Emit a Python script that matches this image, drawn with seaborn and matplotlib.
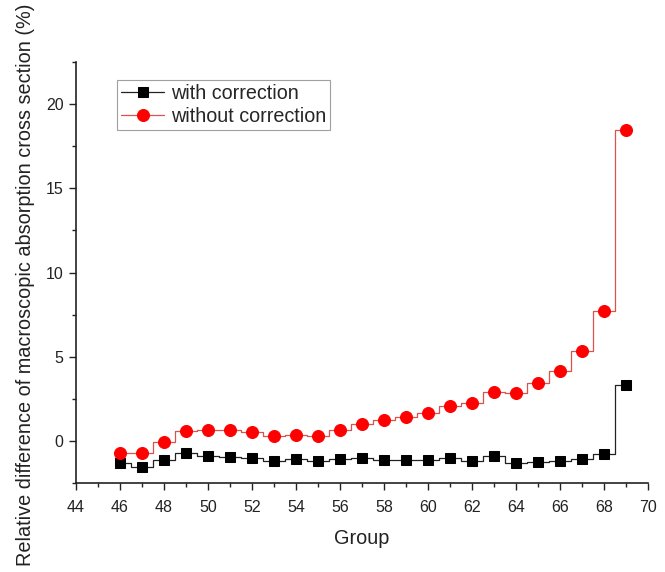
import matplotlib
matplotlib.use("Agg")
import matplotlib.pyplot as plt
from matplotlib.ticker import MultipleLocator
import seaborn as sns
import pandas as pd

# Energy groups
groups = list(range(46, 70))

# Relative difference (%) with the correction applied
with_correction = [-1.32, -1.56, -1.13, -0.73, -0.89, -0.93, -1.03, -1.17,
                   -1.09, -1.17, -1.09, -1.03, -1.13, -1.13, -1.13, -1.03,
                   -1.21, -0.89, -1.32, -1.25, -1.17, -1.09, -0.79, 3.32]

# Relative difference (%) without the correction
without_correction = [-0.69, -0.69, -0.06, 0.61, 0.63, 0.65, 0.53, 0.30,
                      0.36, 0.32, 0.65, 1.03, 1.25, 1.44, 1.68, 2.08,
                      2.24, 2.89, 2.83, 3.42, 4.15, 5.36, 7.70, 18.46]

x_ticks = list(range(44, 71, 2))
y_ticks = [0, 5, 10, 15, 20]

df = pd.DataFrame({"Group": groups,
                   "with": with_correction,
                   "without": without_correction})

sns.set_style("ticks")
plt.rcParams["font.family"] = ["Liberation Sans", "DejaVu Sans"]

fig = plt.figure(figsize=(6.65, 5.72), dpi=100)
ax = fig.add_axes([0.1143, 0.1556, 0.8601, 0.736])

sns.lineplot(data=df, x="Group", y="with", ax=ax, drawstyle="steps-mid",
             color="#222222", linewidth=0.9, marker="s", markersize=7.2,
             markerfacecolor="black", markeredgecolor="black",
             label="with correction")
sns.lineplot(data=df, x="Group", y="without", ax=ax, drawstyle="steps-mid",
             color="#d9534f", linewidth=0.9, marker="o", markersize=8.6,
             markerfacecolor="#ff0000", markeredgecolor="#ff0000",
             label="without correction")

ax.set_xlim(44, 70)
ax.set_ylim(-2.5, 22.5)
ax.set_xticks(x_ticks)
ax.set_yticks(y_ticks)
ax.xaxis.set_minor_locator(MultipleLocator(1))
ax.yaxis.set_minor_locator(MultipleLocator(2.5))
ax.tick_params(which="major", direction="out", length=5, width=1.0,
               labelsize=11.5, colors="#222222")
ax.tick_params(axis="x", which="major", pad=7)
ax.tick_params(axis="y", which="major", pad=4)
ax.tick_params(which="minor", direction="out", length=3, width=1.0,
               colors="#222222")

for side in ("top", "right"):
    ax.spines[side].set_visible(False)
for side in ("left", "bottom"):
    ax.spines[side].set_linewidth(1.2)
    ax.spines[side].set_color("#222222")

ax.set_xlabel("Group", fontsize=14.3, color="#222222")
ax.xaxis.set_label_coords(0.5, -0.11)
ax.set_ylabel("Relative difference of macroscopic absorption cross section (%)",
              fontsize=14.3, color="#222222")
ax.yaxis.set_label_coords(-0.071, 0.47)

leg = ax.legend(loc="upper left", bbox_to_anchor=(0.0717, 0.957), fontsize=14.2,
                frameon=True, fancybox=False, handlelength=2.2,
                handletextpad=0.35, borderpad=0.2, labelspacing=0.2,
                borderaxespad=0)
leg.get_frame().set_edgecolor("#888888")
leg.get_frame().set_linewidth(0.8)

fig.savefig("out.png", dpi=100)
